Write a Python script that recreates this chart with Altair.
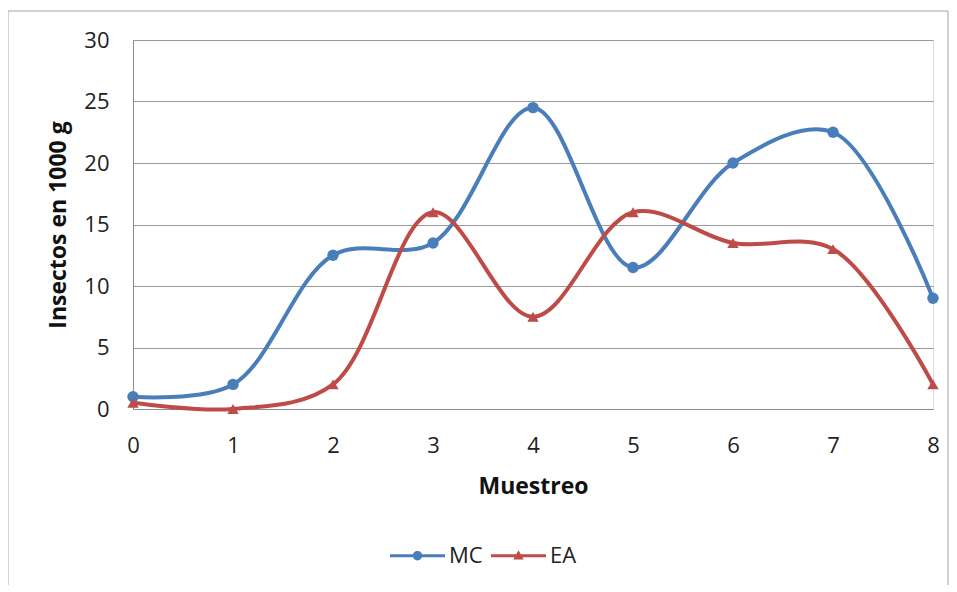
import altair as alt
import pandas as pd

muestreo = [0, 1, 2, 3, 4, 5, 6, 7, 8]
mc = [1, 2, 12.5, 13.5, 24.5, 11.5, 20, 22.5, 9]
ea = [0.5, 0, 2, 16, 7.5, 16, 13.5, 13, 2]
series = ["MC", "EA"]
colors = ["#4A7EBB", "#BE4B48"]
shapes = ["circle", "triangle-up"]

df = pd.DataFrame(
    [{"Muestreo": m, "valor": v, "serie": "MC"} for m, v in zip(muestreo, mc)]
    + [{"Muestreo": m, "valor": v, "serie": "EA"} for m, v in zip(muestreo, ea)]
)

FONT = "Open Sans"

# legend glyphs: a thick line with a marker in the middle (filled shapes)
bar = "M-1,-0.055L1,-0.055L1,0.055L-1,0.055Z"
circ_path = bar + "M0.17,0A0.17,0.17,0,1,1,-0.17,0A0.17,0.17,0,1,1,0.17,0Z"
tri_path = bar + "M0,-0.2L0.19,0.14L-0.19,0.14Z"

x = alt.X("Muestreo:Q", title="Muestreo",
          scale=alt.Scale(domain=[0, 8], nice=False),
          axis=alt.Axis(values=muestreo, grid=False, ticks=False, labelPadding=26,
                        labelFlush=False,
                        labelFontSize=22, titleFontSize=23, titleFontWeight="bold",
                        titlePadding=19, domainColor="#8c8c8c", labelColor="#222",
                        titleColor="#111", labelFont=FONT, titleFont=FONT, format="d"))
y = alt.Y("valor:Q", title="Insectos en 1000 g",
          scale=alt.Scale(domain=[0, 30], nice=False),
          axis=alt.Axis(values=[0, 5, 10, 15, 20, 25, 30], ticks=False, labelPadding=24,
                        labelFlush=False,
                        labelFontSize=22, titleFontSize=23, titleFontWeight="bold",
                        titlePadding=13, gridColor="#9a9a9a", domainColor="#8c8c8c",
                        labelColor="#222", titleColor="#111", labelFont=FONT, titleFont=FONT))

color_scale = alt.Scale(domain=series, range=colors)

leg = alt.Legend(title=None, orient="none", legendX=257, legendY=488,
                 direction="horizontal", symbolSize=3025, symbolOpacity=1,
                 symbolStrokeWidth=0, labelFontSize=22, labelFont=FONT,
                 labelColor="#222", columnPadding=8, labelOffset=4)

lines = alt.Chart(df).mark_line(interpolate="catmull-rom", strokeWidth=4).encode(
    x=x, y=y, color=alt.Color("serie:N", scale=color_scale, legend=None),
    detail="serie:N")

points = alt.Chart(df).mark_point(filled=True, size=130, opacity=1).encode(
    x=x, y=y,
    color=alt.Color("serie:N", scale=color_scale, legend=None),
    shape=alt.Shape("serie:N", scale=alt.Scale(domain=series, range=shapes), legend=None))

legend_layer = alt.Chart(df).mark_point(filled=True, size=1, opacity=0).encode(
    x=x, y=y,
    color=alt.Color("serie:N", scale=color_scale, legend=leg),
    shape=alt.Shape("serie:N", scale=alt.Scale(domain=series, range=[circ_path, tri_path]),
                    legend=leg))

border = alt.Chart(pd.DataFrame({"a": [0]})).mark_rect(
    fill=None, stroke="#a6a6a6", strokeWidth=1, clip=False).encode(
    x=alt.value(-125), x2=alt.value(815), y=alt.value(-29), y2=alt.value(550))

chart = alt.layer(border, lines, points, legend_layer).resolve_scale(
    shape="independent", color="independent"
).properties(
    width=800, height=369,
    autosize=alt.AutoSizeParams(type="none"),
    padding={"left": 125, "top": 32, "right": 16, "bottom": 176},
).configure_view(stroke=None).configure(background="white")

chart.save("out.html", embed_options={"renderer": "svg", "actions": False})
